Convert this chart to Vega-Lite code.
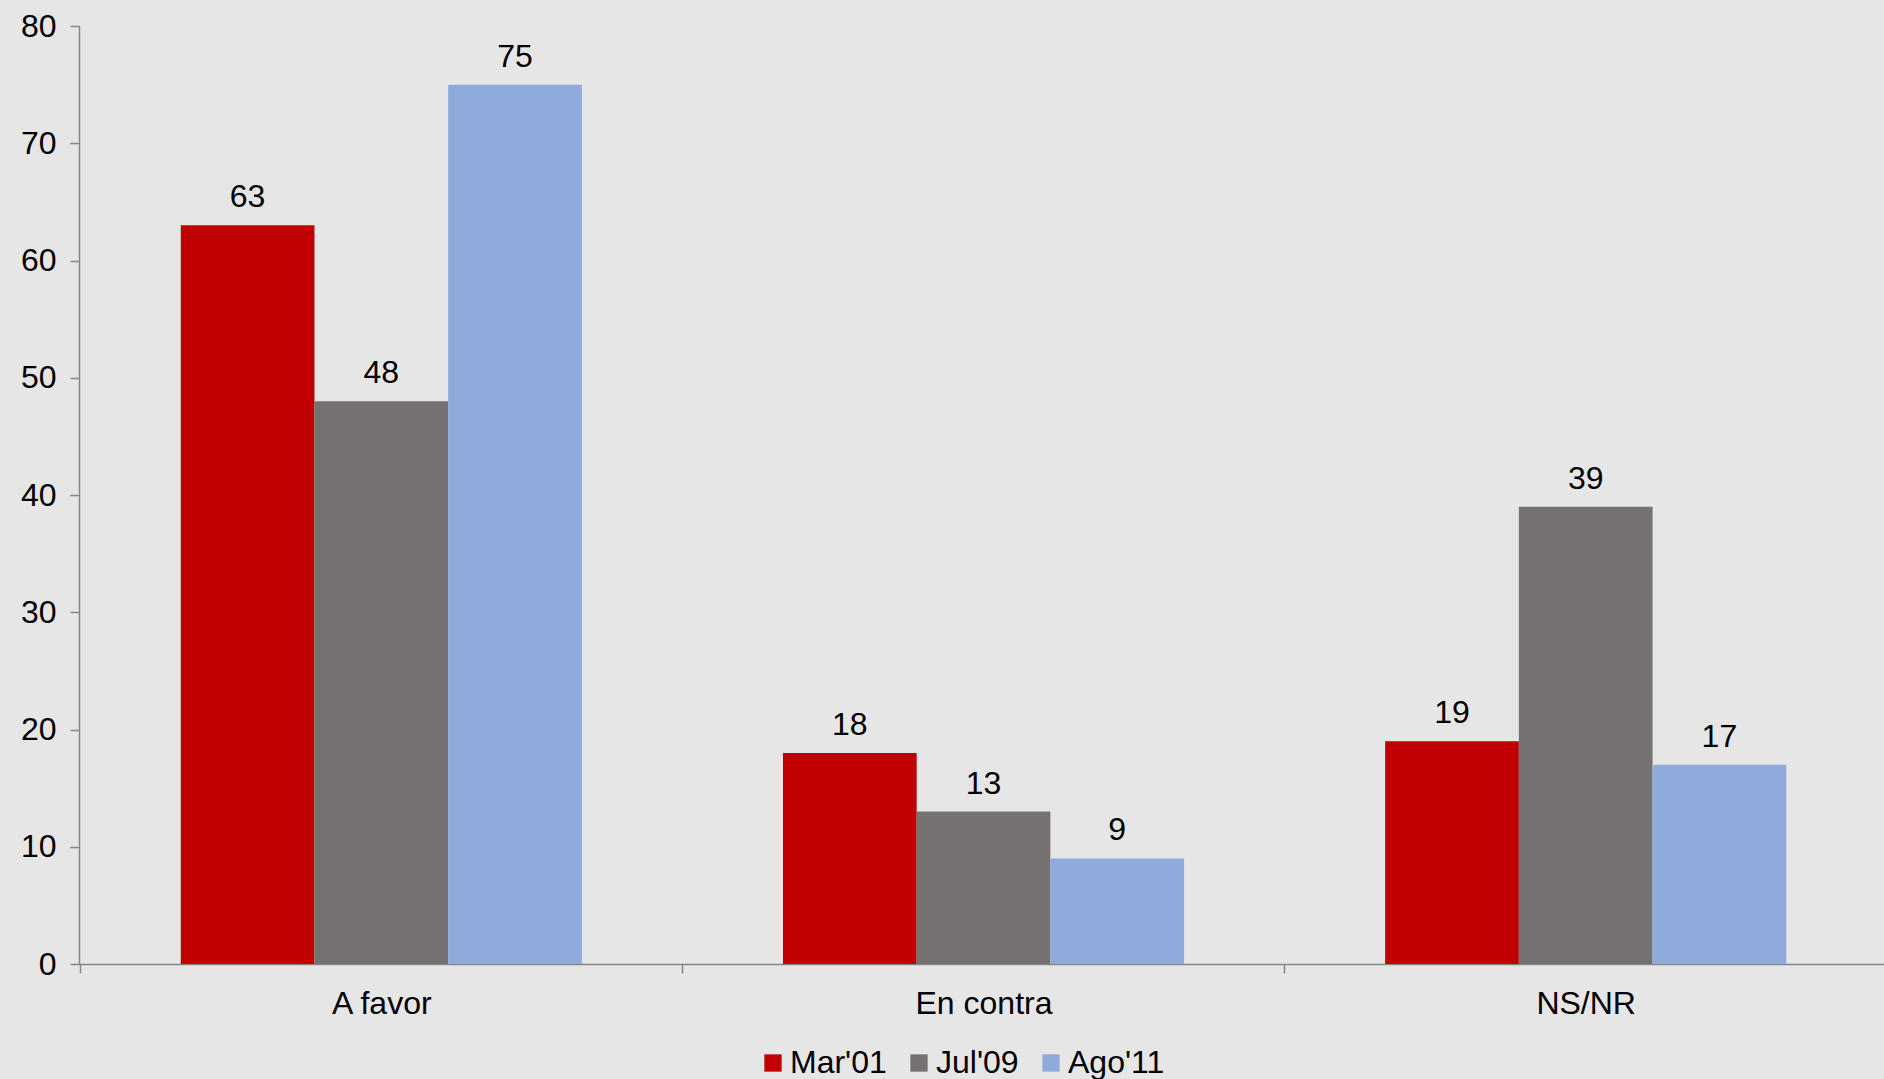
{
  "$schema": "https://vega.github.io/schema/vega-lite/v6.json",
  "width": 1809,
  "height": 938,
  "autosize": {"type": "none"},
  "padding": {"left": 79, "top": 26, "right": 0, "bottom": 115},
  "background": "#e6e6e6",
  "config": {
    "font": "Liberation Sans",
    "view": {"stroke": null},
    "axis": {"domainColor": "#868686", "tickColor": "#868686", "labelColor": "#000000", "labelFont": "Liberation Sans", "labelFontSize": 32, "grid": false, "domainWidth": 1.5, "tickWidth": 1.5}
  },
  "data": {
    "values": [
      {"cat": "A favor", "serie": "Mar'01", "val": 63},
      {"cat": "A favor", "serie": "Jul'09", "val": 48},
      {"cat": "A favor", "serie": "Ago'11", "val": 75},
      {"cat": "En contra", "serie": "Mar'01", "val": 18},
      {"cat": "En contra", "serie": "Jul'09", "val": 13},
      {"cat": "En contra", "serie": "Ago'11", "val": 9},
      {"cat": "NS/NR", "serie": "Mar'01", "val": 19},
      {"cat": "NS/NR", "serie": "Jul'09", "val": 39},
      {"cat": "NS/NR", "serie": "Ago'11", "val": 17}
    ]
  },
  "encoding": {
    "x": {
      "field": "cat", "type": "nominal", "sort": null, "title": null,
      "scale": {"paddingInner": 0.334, "paddingOuter": 0.169},
      "axis": {"labelAngle": 0, "tickOffset": -301.5, "labelOffset": 301.5, "tickSize": 9, "labelPadding": 15}
    },
    "xOffset": {"field": "serie", "type": "nominal", "sort": ["Mar'01", "Jul'09", "Ago'11"], "scale": {"paddingInner": 0, "paddingOuter": 0}},
    "y": {
      "field": "val", "type": "quantitative", "title": null,
      "scale": {"domain": [0, 80], "nice": false},
      "axis": {"values": [0, 10, 20, 30, 40, 50, 60, 70, 80], "tickSize": 9, "labelPadding": 14}
    }
  },
  "layer": [
    {
      "mark": {"type": "bar"},
      "encoding": {
        "color": {
          "field": "serie", "type": "nominal", "sort": ["Mar'01", "Jul'09", "Ago'11"],
          "scale": {"domain": ["Mar'01", "Jul'09", "Ago'11"], "range": ["#c00000", "#767171", "#8eaadb"]},
          "legend": {
            "title": null, "orient": "none", "direction": "horizontal",
            "legendX": 678, "legendY": 1021,
            "symbolType": "square", "symbolSize": 300, "symbolStrokeWidth": 0,
            "labelFontSize": 32, "labelColor": "#000000", "labelFont": "Liberation Sans",
            "columnPadding": 16, "labelOffset": 1
          }
        }
      }
    },
    {
      "mark": {"type": "text", "baseline": "bottom", "dy": -11, "fontSize": 32, "color": "#000000", "font": "Liberation Sans"},
      "encoding": {"text": {"field": "val", "type": "quantitative"}}
    }
  ]
}
